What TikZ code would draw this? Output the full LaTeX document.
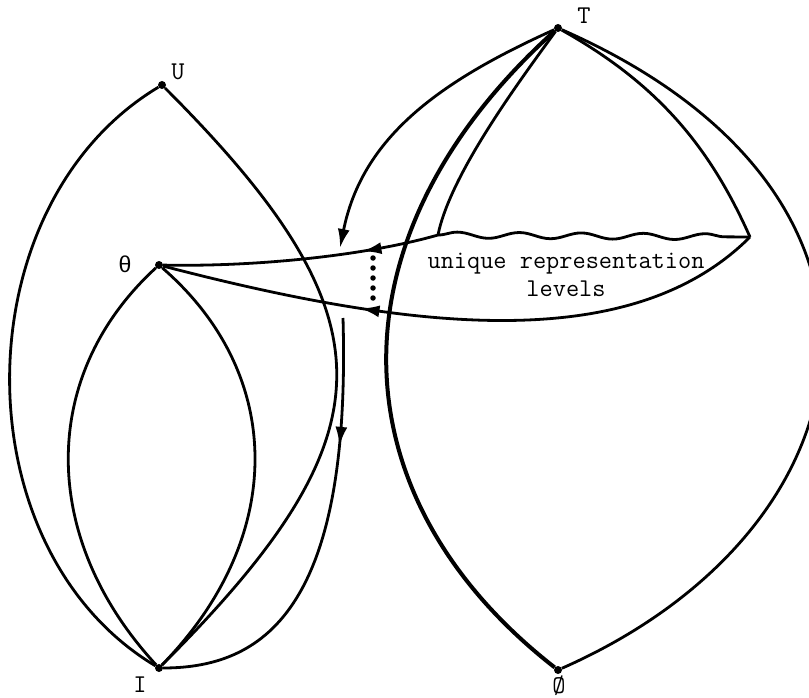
\documentclass[tikz,border=0pt]{standalone}
\usepackage{fontspec}
\newfontfamily\tw{Liberation Mono}
\usetikzlibrary{arrows.meta,decorations.markings,decorations.pathmorphing}
\tikzset{
  curve/.style={line width=2.8pt},
  vtx/.style={circle, fill, inner sep=0pt, minimum size=8pt},
  lbl/.style={font=\ttfamily\fontsize{25.6}{28}\selectfont, inner sep=0pt},
  tipA/.tip={Latex[length=19pt,width=12pt]},
  midarrow/.style={postaction={decorate, decoration={markings,
    mark=at position #1 with {\arrow{tipA}}}}},
  dotline/.style={line width=5.5pt, line cap=round, dash pattern=on 0pt off 10pt},
}
\begin{document}
\begin{tikzpicture}[x=1pt,y=-1pt]
\clip (0,0) rectangle (809,698);
\node[vtx] (U) at (162,85) {};
\node[vtx] (th) at (159,265) {};
\node[vtx] (I) at (159,668) {};
\node[vtx] (T) at (558,28) {};
\node[vtx] (E) at (558,670) {};
\coordinate (wl) at (438,235);
\coordinate (wr) at (750,237);
\coordinate (ustart) at (343,318);
\coordinate (tip) at (340,248);
\coordinate (dtop) at (373,258);
\coordinate (dbot) at (373,306);

\node[lbl] (Ul) at (178,72) {U};
\node[lbl] (thl) at (125,264) {\tw\fontsize{23}{28}\selectfont θ};
\node[lbl] (Il) at (140,685) {I};
\node[lbl] (Tl) at (584,16) {T};
\node[lbl] (El) at (559,686) {Ø};
\node[lbl, align=center] (lev) at (566,275) {unique representation\\levels};

% left lenses
\draw[curve] (U) .. controls +(-200,120) and +(-200,-120) .. (I);
\draw[curve] (U) .. controls +(234,234) and +(234,-234) .. (I);
\draw[curve] (th) .. controls +(-120,110) and +(-120,-130) .. (I);
\draw[curve] (th) .. controls +(127,110) and +(127,-130) .. (I);
\draw[curve, midarrow=128pt] (ustart) .. controls +(8,282) and +(111,0) .. (I);

% right lens
\draw[curve, line width=4pt] (T) .. controls +(-229,206) and +(-227,-177) .. (E);
\draw[curve] (T) .. controls +(380,167) and +(320,-141) .. (E);
\draw[curve] (T) .. controls +(-40,55) and +(12,-60) .. (wl);
\draw[curve] (T) .. controls +(100,56) and +(-40,-90) .. (wr);
\draw[curve, -tipA] (T) .. controls +(-120,54) and +(22,-110) .. (tip);
\draw[curve, decorate, decoration={snake, amplitude=3pt, segment length=62pt}] (wl) -- (wr);

% levels mapped to theta
\draw[curve, midarrow=-200pt] (wl) .. controls +(-70,20) and +(100,2) .. (th);
\draw[curve, midarrow=-202pt] (wr) .. controls +(-120,120) and +(250,65) .. (th);
\draw[dotline] (dtop) -- (dbot);
\end{tikzpicture}
\end{document}
